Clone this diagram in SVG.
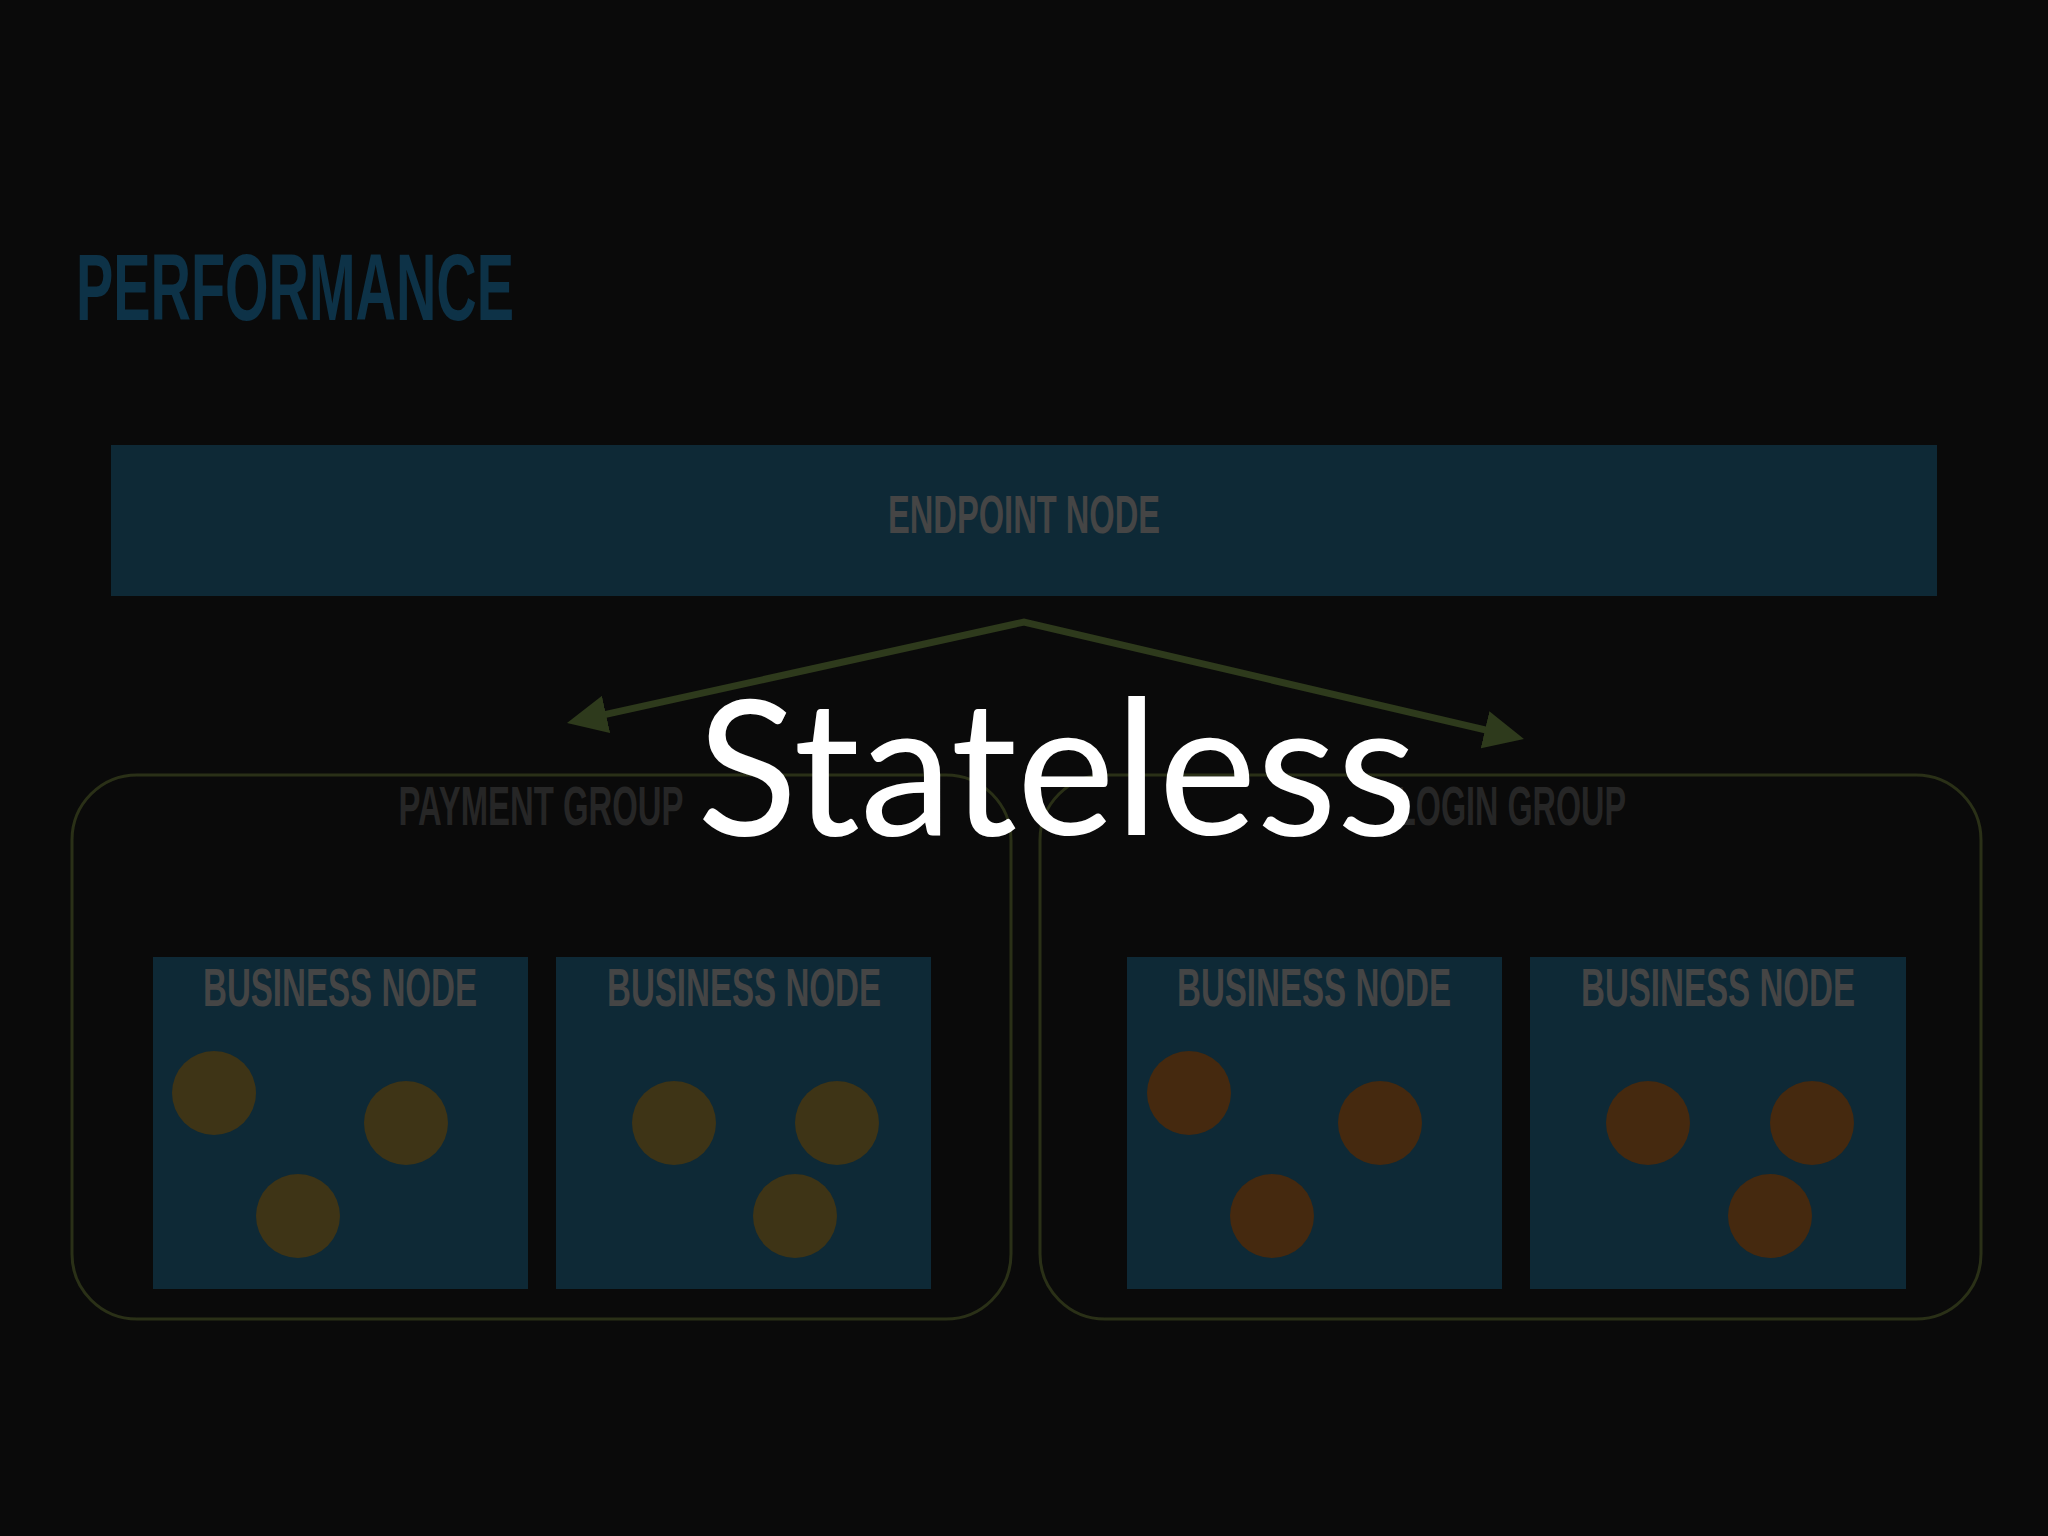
<svg xmlns="http://www.w3.org/2000/svg" width="2048" height="1536" viewBox="0 0 2048 1536">
  <style>
    .lbl { font-family: "Liberation Sans", "DejaVu Sans", sans-serif; font-weight: bold; text-anchor: middle; }
    .node-lbl { fill: #454545; font-size: 54px; }
    .grp-lbl { fill: #262626; font-size: 56px; }
    .box { fill: #0e2936; }
    .grp { fill: none; stroke: #2a3017; stroke-width: 3; }
    .dotA { fill: #3e3416; }
    .dotB { fill: #45290f; }
    .conn { fill: none; stroke: #2e3a1c; stroke-width: 7; stroke-linejoin: miter; }
  </style>
  <defs>
    <marker id="arrow" markerUnits="userSpaceOnUse" viewBox="0 0 40 38" markerWidth="40" markerHeight="38" refX="20" refY="19" orient="auto-start-reverse">
      <path d="M0,0 L40,19 L0,38 Z" fill="#2e3a1c"/>
    </marker>
  </defs>
  <rect x="0" y="0" width="2048" height="1536" fill="#0a0a0a"/>

  <text id="title" x="76" y="320" font-family="Liberation Sans, DejaVu Sans, sans-serif" font-weight="bold" font-size="95" fill="#0d3247" textLength="438" lengthAdjust="spacingAndGlyphs">PERFORMANCE</text>

  <g id="endpoint-node">
    <rect class="box" x="111" y="445" width="1826" height="151"/>
    <text class="lbl node-lbl" x="1024" y="533" textLength="272" lengthAdjust="spacingAndGlyphs">ENDPOINT NODE</text>
  </g>

  <g id="payment-group">
    <rect class="grp" x="72" y="775" width="939" height="544" rx="65" ry="65"/>
    <text class="lbl grp-lbl" x="541" y="825" textLength="285" lengthAdjust="spacingAndGlyphs">PAYMENT GROUP</text>
  </g>

  <g id="login-group">
    <rect class="grp" x="1040" y="775" width="941" height="544" rx="65" ry="65"/>
    <text class="lbl grp-lbl" x="1511" y="825" textLength="230" lengthAdjust="spacingAndGlyphs">LOGIN GROUP</text>
  </g>

  <g id="business-node-1">
    <rect class="box" x="153" y="957" width="375" height="332"/>
    <text class="lbl node-lbl" x="340" y="1006" textLength="274" lengthAdjust="spacingAndGlyphs">BUSINESS NODE</text>
    <circle class="dotA" cx="214" cy="1093" r="42"/>
    <circle class="dotA" cx="406" cy="1123" r="42"/>
    <circle class="dotA" cx="298" cy="1216" r="42"/>
  </g>

  <g id="business-node-2">
    <rect class="box" x="556" y="957" width="375" height="332"/>
    <text class="lbl node-lbl" x="744" y="1006" textLength="274" lengthAdjust="spacingAndGlyphs">BUSINESS NODE</text>
    <circle class="dotA" cx="674" cy="1123" r="42"/>
    <circle class="dotA" cx="837" cy="1123" r="42"/>
    <circle class="dotA" cx="795" cy="1216" r="42"/>
  </g>

  <g id="business-node-3">
    <rect class="box" x="1127" y="957" width="375" height="332"/>
    <text class="lbl node-lbl" x="1314" y="1006" textLength="274" lengthAdjust="spacingAndGlyphs">BUSINESS NODE</text>
    <circle class="dotB" cx="1189" cy="1093" r="42"/>
    <circle class="dotB" cx="1380" cy="1123" r="42"/>
    <circle class="dotB" cx="1272" cy="1216" r="42"/>
  </g>

  <g id="business-node-4">
    <rect class="box" x="1530" y="957" width="376" height="332"/>
    <text class="lbl node-lbl" x="1718" y="1006" textLength="274" lengthAdjust="spacingAndGlyphs">BUSINESS NODE</text>
    <circle class="dotB" cx="1648" cy="1123" r="42"/>
    <circle class="dotB" cx="1812" cy="1123" r="42"/>
    <circle class="dotB" cx="1770" cy="1216" r="42"/>
  </g>

  <g id="connectors">
    <path class="conn" d="M586.5,718.7 L1024,622 L1504.5,734.4" marker-start="url(#arrow)" marker-end="url(#arrow)"/>
  </g>

  <text id="overlay" x="697" y="835" font-family="Lato, Noto Sans, sans-serif" font-size="188" fill="#ffffff" textLength="720" lengthAdjust="spacingAndGlyphs">Stateless</text>
</svg>
